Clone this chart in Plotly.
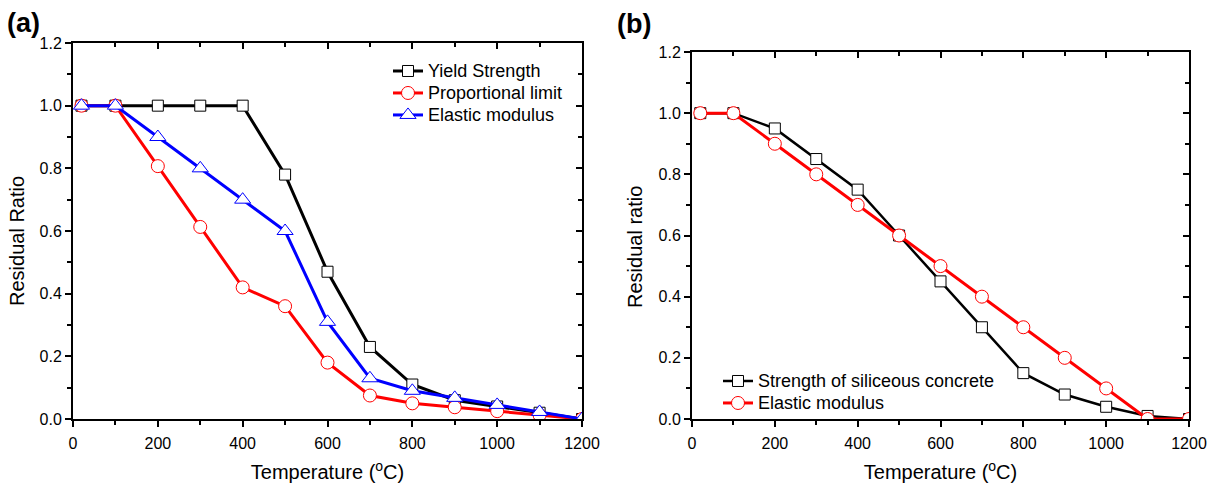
import plotly.graph_objects as go

# ---- data ----
temps = [20, 100, 200, 300, 400, 500, 600, 700, 800, 900, 1000, 1100, 1200]
yield_strength = [1.0, 1.0, 1.0, 1.0, 1.0, 0.78, 0.47, 0.23, 0.11, 0.06, 0.04, 0.02, 0.0]
proportional_limit = [1.0, 1.0, 0.807, 0.613, 0.42, 0.36, 0.18, 0.075, 0.05, 0.0375, 0.025, 0.0125, 0.0]
elastic_modulus_steel = [1.0, 1.0, 0.9, 0.8, 0.7, 0.6, 0.31, 0.13, 0.09, 0.0675, 0.045, 0.0225, 0.0]
concrete_strength = [1.0, 1.0, 0.95, 0.85, 0.75, 0.6, 0.45, 0.3, 0.15, 0.08, 0.04, 0.01, 0.0]
elastic_modulus_concrete = [1.0, 1.0, 0.9, 0.8, 0.7, 0.6, 0.5, 0.4, 0.3, 0.2, 0.1, 0.0, 0.0]

x_ticks = [0, 200, 400, 600, 800, 1000, 1200]
x_minor = [100, 300, 500, 700, 900, 1100]
y_ticks = [0.0, 0.2, 0.4, 0.6, 0.8, 1.0, 1.2]
y_minor = [0.1, 0.3, 0.5, 0.7, 0.9, 1.1]
y_ticklabels = ["0.0", "0.2", "0.4", "0.6", "0.8", "1.0", "1.2"]

FONT = "Liberation Sans, Arial, sans-serif"
W, H = 1213, 483

def px_x(p):
    return p / W

def px_y(p):
    return 1 - p / H

def leg(name):
    return '<span style="font-size:18px">' + name + '</span>'

fig = go.Figure()

# panel (a)
fig.add_trace(go.Scatter(x=temps, y=yield_strength, name=leg("Yield Strength"), mode="lines+markers",
                         line=dict(color="black", width=3),
                         marker=dict(symbol="square", size=11, color="white", line=dict(color="black", width=1)),
                         xaxis="x", yaxis="y", legend="legend"))
fig.add_trace(go.Scatter(x=temps, y=proportional_limit, name=leg("Proportional limit"), mode="lines+markers",
                         line=dict(color="red", width=3),
                         marker=dict(symbol="circle", size=13, color="white", line=dict(color="red", width=1)),
                         xaxis="x", yaxis="y", legend="legend"))
fig.add_trace(go.Scatter(x=temps, y=elastic_modulus_steel, name=leg("Elastic modulus"), mode="lines+markers",
                         line=dict(color="blue", width=3),
                         marker=dict(symbol="triangle-up", size=14, color="white", line=dict(color="blue", width=1)),
                         xaxis="x", yaxis="y", legend="legend"))

# panel (b)
fig.add_trace(go.Scatter(x=temps, y=concrete_strength, name=leg("Strength of siliceous concrete"), mode="lines+markers",
                         line=dict(color="black", width=2.5),
                         marker=dict(symbol="square", size=11, color="white", line=dict(color="black", width=1)),
                         xaxis="x2", yaxis="y2", legend="legend2"))
fig.add_trace(go.Scatter(x=temps, y=elastic_modulus_concrete, name=leg("Elastic modulus"), mode="lines+markers",
                         line=dict(color="red", width=3),
                         marker=dict(symbol="circle", size=13, color="white", line=dict(color="red", width=1)),
                         xaxis="x2", yaxis="y2", legend="legend2"))

# dummy traces for inner-tick mirror axes
for xa, ya in (("x3", "y3"), ("x4", "y4")):
    fig.add_trace(go.Scatter(x=[None], y=[None], xaxis=xa, yaxis=ya, showlegend=False, hoverinfo="skip"))

dom_a_x = [px_x(73), px_x(582)]
dom_a_y = [px_y(419), px_y(43)]
dom_b_x = [px_x(692), px_x(1189)]
dom_b_y = [px_y(419), px_y(52)]

tickfont = dict(family=FONT, size=16, color="black")
titlefont = dict(family=FONT, size=20, color="black")

def xaxis(domain, anchor, title):
    return dict(domain=domain, anchor=anchor, range=[0, 1200], tickvals=x_ticks,
                ticks="outside", ticklen=6, tickwidth=1.5, tickcolor="black",
                minor=dict(tickvals=x_minor, ticks="outside", ticklen=4,
                           tickwidth=1.5, tickcolor="black"),
                showline=True, linecolor="black", linewidth=2, mirror=True,
                showgrid=False, zeroline=False, tickfont=tickfont, automargin=False,
                ticklabelstandoff=3,
                title=dict(text=title, font=titlefont, standoff=14))

def yaxis(domain, anchor):
    return dict(domain=domain, anchor=anchor, range=[0, 1.2], tickvals=y_ticks, ticktext=y_ticklabels,
                ticks="outside", ticklen=6, tickwidth=1.5, tickcolor="black",
                minor=dict(tickvals=y_minor, ticks="outside", ticklen=4,
                           tickwidth=1.5, tickcolor="black"),
                showline=True, linecolor="black", linewidth=2, mirror=True,
                showgrid=False, zeroline=False, tickfont=tickfont, automargin=False)

def xmirror(domain, anchor, over):
    return dict(domain=domain, anchor=anchor, overlaying=over, side="top", range=[0, 1200],
                tickvals=x_ticks, ticks="inside", ticklen=6, tickwidth=1.5, tickcolor="black",
                minor=dict(tickvals=x_minor, ticks="inside", ticklen=4,
                           tickwidth=1.5, tickcolor="black"),
                showticklabels=False, showline=False, showgrid=False, zeroline=False, automargin=False)

def ymirror(domain, anchor, over):
    return dict(domain=domain, anchor=anchor, overlaying=over, side="right", range=[0, 1.2],
                tickvals=y_ticks, ticks="inside", ticklen=6, tickwidth=1.5, tickcolor="black",
                minor=dict(tickvals=y_minor, ticks="inside", ticklen=4,
                           tickwidth=1.5, tickcolor="black"),
                showticklabels=False, showline=False, showgrid=False, zeroline=False, automargin=False)

legfont = dict(family=FONT, size=14.6, color="black")

fig.update_layout(
    width=W, height=H,
    margin=dict(l=0, r=0, t=0, b=0),
    paper_bgcolor="white", plot_bgcolor="white",
    xaxis=xaxis(dom_a_x, "y", "Temperature (<sup>o</sup>C)"),
    yaxis=yaxis(dom_a_y, "x"),
    xaxis2=xaxis(dom_b_x, "y2", "Temperature (<sup>o</sup>C)"),
    yaxis2=yaxis(dom_b_y, "x2"),
    xaxis3=xmirror(dom_a_x, "y3", "x"),
    yaxis3=ymirror(dom_a_y, "x3", "y"),
    xaxis4=xmirror(dom_b_x, "y4", "x2"),
    yaxis4=ymirror(dom_b_y, "x4", "y2"),
    legend=dict(x=px_x(388), y=px_y(55), xanchor="left", yanchor="top",
                bgcolor="rgba(0,0,0,0)", font=legfont, tracegroupgap=0, itemwidth=30),
    legend2=dict(x=px_x(718), y=px_y(365), xanchor="left", yanchor="top",
                 bgcolor="rgba(0,0,0,0)", font=legfont, tracegroupgap=0, itemwidth=30),
    annotations=[
        dict(text="<b>(a)</b>", x=px_x(5), y=px_y(23), xref="paper", yref="paper",
             xanchor="left", yanchor="middle", showarrow=False,
             font=dict(family=FONT, size=27, color="black")),
        dict(text="<b>(b)</b>", x=px_x(615), y=px_y(24), xref="paper", yref="paper",
             xanchor="left", yanchor="middle", showarrow=False,
             font=dict(family=FONT, size=27, color="black")),
        dict(text="Residual Ratio", x=px_x(17), y=px_y(241), xref="paper", yref="paper",
             xanchor="center", yanchor="middle", textangle=-90, showarrow=False, font=titlefont),
        dict(text="Residual ratio", x=px_x(635), y=px_y(247), xref="paper", yref="paper",
             xanchor="center", yanchor="middle", textangle=-90, showarrow=False, font=titlefont),
    ],
)

fig.write_html("out.html")
